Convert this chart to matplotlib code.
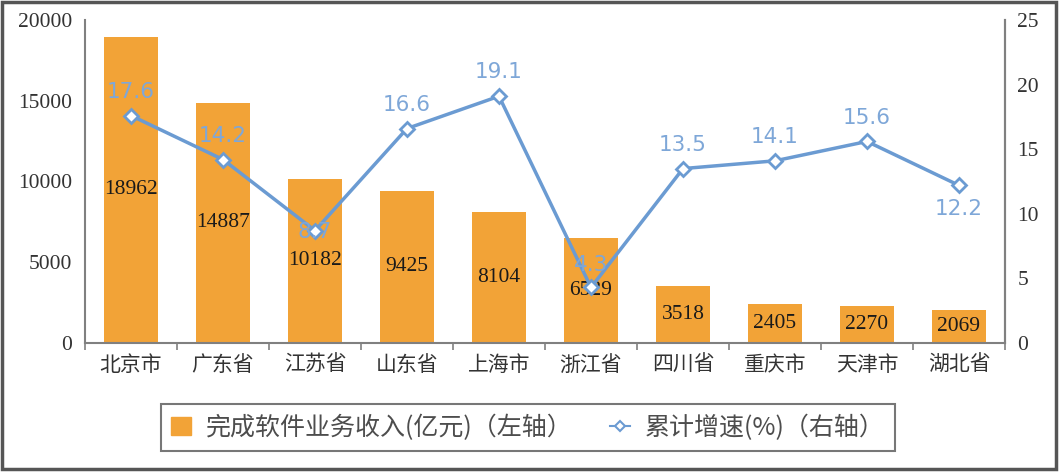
import matplotlib
matplotlib.use("Agg")
import matplotlib.pyplot as plt
from matplotlib.patches import Rectangle
from matplotlib.lines import Line2D
import numpy as np

categories = ["北京市", "广东省", "江苏省", "山东省", "上海市", "浙江省", "四川省", "重庆市", "天津市", "湖北省"]
revenue = [18962, 14887, 10182, 9425, 8104, 6529, 3518, 2405, 2270, 2069]
growth = [17.6, 14.2, 8.7, 16.6, 19.1, 4.3, 13.5, 14.1, 15.6, 12.2]
left_ticks = [0, 5000, 10000, 15000, 20000]
right_ticks = [0, 5, 10, 15, 20, 25]
legend_labels = ["完成软件业务收入(亿元)（左轴）", "累计增速(%)（右轴）"]

# label offsets (points) for growth labels
growth_offsets = [(0, 10), (0, 10), (0, -1), (0, 10), (0, 10), (0, 9), (0, 10), (0, 10), (0, 10), (0, -10)]

plt.rcParams['font.family'] = ['Noto Sans CJK SC', 'DejaVu Sans']

bar_color = "#F2A337"
line_color = "#6B9BD2"
label_blue = "#7EA7D8"
spine_color = "#808080"
serif = ['Liberation Serif', 'DejaVu Serif']

fig = plt.figure(figsize=(10.64, 4.74), dpi=100)
ax = fig.add_axes([85/1064, 1-343/474, (1005-85)/1064, (343-20)/474])
x = np.arange(len(categories))
bars = ax.bar(x, revenue, width=0.58, color=bar_color, zorder=2)
ax.set_xlim(-0.5, len(categories)-0.5)
ax.set_ylim(0, 20000)
ax.set_yticks(left_ticks)
ax.set_yticklabels([str(t) for t in left_ticks], fontfamily=serif, fontsize=15.5, color="#333333")
ax.tick_params(axis='y', length=0, pad=9)

ax.set_xticks(np.arange(len(categories)+1)-0.5)
ax.set_xticklabels([])
ax.tick_params(axis='x', which='major', length=5, width=1.2, color=spine_color, direction='out')
ax.set_xticks(x, minor=True)
ax.set_xticklabels(categories, minor=True, fontsize=15, color="#333333")
ax.tick_params(axis='x', which='minor', length=0, pad=8)

ax.spines['top'].set_visible(False)
for s in ['left', 'bottom', 'right']:
    ax.spines[s].set_color(spine_color)
    ax.spines[s].set_linewidth(1.5)

for xi, v in zip(x, revenue):
    ax.text(xi, v/2, str(v), ha='center', va='center', fontfamily=serif,
            fontsize=15.5, color="#1a1a1a", zorder=5)

ax2 = ax.twinx()
ax2.set_ylim(0, 25)
ax2.set_yticks(right_ticks)
ax2.set_yticklabels([str(t) for t in right_ticks], fontfamily=serif, fontsize=15.5, color="#333333")
ax2.tick_params(axis='y', length=0, pad=9)
for s in ['top', 'left', 'bottom']:
    ax2.spines[s].set_visible(False)
ax2.spines['right'].set_color(spine_color)
ax2.spines['right'].set_linewidth(1.5)
ax2.plot(x, growth, color=line_color, lw=2.5, marker='D', markersize=7,
         markerfacecolor='white', markeredgecolor=line_color, markeredgewidth=2, zorder=4)
for xi, g, off in zip(x, growth, growth_offsets):
    va = 'bottom' if off[1] > 2 else ('top' if off[1] < -2 else 'center')
    ax2.annotate(f"{g}", (xi, g), xytext=off, textcoords='offset points',
                 ha='center', va=va,
                 fontfamily=['DejaVu Sans'], fontsize=15.5, color=label_blue, zorder=6)

handles = [Rectangle((0, 0), 1, 1, color=bar_color),
           Line2D([0], [0], color=line_color, lw=1.5, marker='D', markersize=5,
                  markerfacecolor='white', markeredgecolor=line_color, markeredgewidth=1.5)]
leg = fig.legend(handles, legend_labels, loc='center', bbox_to_anchor=(528/1064, 1-427.5/474),
                 ncol=2, frameon=True, fancybox=False, handlelength=0.8,
                 handletextpad=0.6, columnspacing=1.5, borderpad=0.4,
                 prop={'family': ['Noto Sans CJK SC', 'DejaVu Sans'], 'size': 18})
leg.get_frame().set_edgecolor("#555555")
leg.get_frame().set_linewidth(1.5)
for t in leg.get_texts():
    t.set_color("#4d4d4d")

border = Rectangle((2/1064, 1-469/474), (1056-2)/1064, (469-2)/474, transform=fig.transFigure,
                   fill=False, edgecolor="#555555", linewidth=2.5)
fig.patches.append(border)

fig.savefig("out.png", dpi=100)
